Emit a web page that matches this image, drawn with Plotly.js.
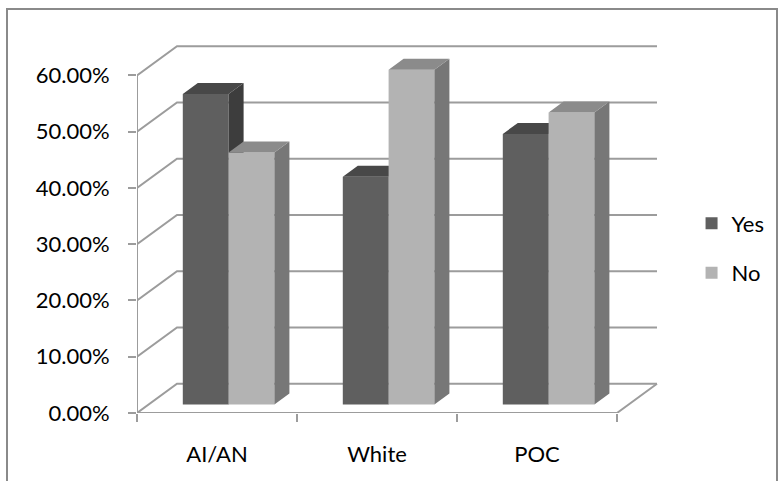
<!DOCTYPE html>
<html>
<head>
<meta charset="utf-8">
<script src="https://cdn.plot.ly/plotly-3.0.1.min.js"></script>
<style>
  html, body { margin: 0; padding: 0; background: #fff; }
  #wrap { position: relative; width: 784px; height: 481px; overflow: hidden; }
  #chart { width: 784px; height: 481px; }
  #frame { position: absolute; left: 6px; top: 8px; width: 768px; height: 520px;
           border: 2px solid #8a8a8a; pointer-events: none; }
</style>
</head>
<body>
<div id="wrap">
  <div id="chart"></div>
  <div id="frame"></div>
</div>
<script>
// Share of responses by group
const categories = ['AI/AN', 'White', 'POC'];
const yesValues = [0.552, 0.405, 0.481];
const noValues = [0.448, 0.595, 0.519];
const seriesNames = ['Yes', 'No'];
const valueTicks = [0, 0.1, 0.2, 0.3, 0.4, 0.5, 0.6];

// Pixel scale of the front plane
const PX_PER_CAT = 160;
const PX_PER_UNIT = 563.3;
const M = { l: 137, r: 84, t: 30, b: 67.5 };
const plotW = 784 - M.l - M.r;
const plotH = 481 - M.t - M.b;
const xRange = [-0.5, -0.5 + plotW / PX_PER_CAT];
const yRange = [0, plotH / PX_PER_UNIT];

// Oblique depth of the floor/back wall and of each column, in data units
const WALL_DX = 40 / PX_PER_CAT, WALL_DY = 29.3 / PX_PER_UNIT;
const FRONT_DX = 11.6 / PX_PER_CAT, FRONT_DY = 8.5 / PX_PER_UNIT;
const BAR_DX = 15 / PX_PER_CAT, BAR_DY = 11 / PX_PER_UNIT;
const BAR_W = 45.8 / PX_PER_CAT;

const lineColor = '#9c9c9c';
const colors = {
  Yes: { front: '#5f5f5f', top: '#484848', side: '#3d3d3d' },
  No:  { front: '#b3b3b3', top: '#8b8b8b', side: '#777777' }
};

// Back wall, side diagonals, floor and front value axis
const nCat = categories.length;
const xL = -0.5, xR = nCat - 0.5;
const wx = [], wy = [];
valueTicks.forEach(v => {
  wx.push(xL, xL + WALL_DX, xR + WALL_DX, null);
  wy.push(v, v + WALL_DY, v + WALL_DY, null);
});
wx.push(xL, xL, null, xL, xR, xR + WALL_DX);
wy.push(valueTicks[valueTicks.length - 1], 0, null, 0, 0, WALL_DY);

const data = [{
  type: 'scatter', mode: 'lines', x: wx, y: wy,
  line: { color: lineColor, width: 2 },
  xaxis: 'x', yaxis: 'y', showlegend: false, hoverinfo: 'skip'
}];

function columnFaces(values, name, leftSide, xa, ya) {
  const c = colors[name];
  const xs = categories.map((_, i) => i + FRONT_DX);
  // front faces
  data.push({
    type: 'bar', name: name, x: xs, y: values, base: FRONT_DY,
    offset: leftSide ? -BAR_W : 0, width: BAR_W,
    marker: { color: c.front, line: { width: 0 } },
    xaxis: xa, yaxis: ya, legendgroup: name,
    customdata: categories,
    hovertemplate: '%{customdata}: %{y:.2%}<extra>' + name + '</extra>'
  });
  const tx = [], ty = [], sx = [], sy = [];
  values.forEach((v, i) => {
    const x0 = xs[i] + (leftSide ? -BAR_W : 0), x1 = x0 + BAR_W;
    const b = FRONT_DY, t = FRONT_DY + v;
    tx.push(x0, x1, x1 + BAR_DX, x0 + BAR_DX, x0, null);
    ty.push(t, t, t + BAR_DY, t + BAR_DY, t, null);
    sx.push(x1, x1, x1 + BAR_DX, x1 + BAR_DX, x1, null);
    sy.push(b, t, t + BAR_DY, b + BAR_DY, b, null);
  });
  [[sx, sy, c.side], [tx, ty, c.top]].forEach(([px, py, col]) => {
    data.push({
      type: 'scatter', mode: 'lines', x: px, y: py, fill: 'toself',
      fillcolor: col, line: { width: 0, color: col },
      xaxis: xa, yaxis: ya, showlegend: false, hoverinfo: 'skip'
    });
  });
}
columnFaces(yesValues, seriesNames[0], true, 'x2', 'y2');
columnFaces(noValues, seriesNames[1], false, 'x3', 'y3');

const font = { family: 'Lato, "Open Sans", sans-serif', size: 22, color: '#000' };
const hiddenY = { range: yRange, overlaying: 'y', showgrid: false, zeroline: false,
                  showticklabels: false, ticks: '', fixedrange: true };

const layout = {
  width: 784, height: 481,
  margin: M,
  paper_bgcolor: '#fff', plot_bgcolor: 'rgba(0,0,0,0)',
  font: font,
  barmode: 'overlay',
  showlegend: true,
  legend: {
    x: 0.985, xanchor: 'left', y: 0.55, yanchor: 'top',
    font: font, tracegroupgap: 18, traceorder: 'grouped',
    bgcolor: 'rgba(0,0,0,0)'
  },
  xaxis: {
    range: xRange, fixedrange: true, showgrid: false, zeroline: false,
    showline: false, tickmode: 'array', tickvals: categories.map((_, i) => i),
    ticktext: categories, ticks: '', ticklabelstandoff: 26, tickfont: font
  },
  xaxis2: {
    range: xRange, overlaying: 'x', anchor: 'y2', side: 'bottom', fixedrange: true,
    showgrid: false, zeroline: false, showline: false, showticklabels: false,
    tickmode: 'array', tickvals: Array.from({ length: nCat + 1 }, (_, i) => i - 0.5),
    ticks: 'outside', ticklen: 8, tickwidth: 2, tickcolor: lineColor
  },
  xaxis3: {
    range: xRange, overlaying: 'x', anchor: 'y3', fixedrange: true,
    showgrid: false, zeroline: false, showline: false, showticklabels: false, ticks: ''
  },
  yaxis: {
    range: yRange, fixedrange: true, showgrid: false, zeroline: false, showline: false,
    tickmode: 'array', tickvals: valueTicks, tickformat: '.2%',
    ticks: 'outside', ticklen: 8, tickwidth: 2, tickcolor: lineColor,
    ticklabelstandoff: 14, tickfont: font
  },
  yaxis2: Object.assign({ anchor: 'x2' }, hiddenY),
  yaxis3: Object.assign({ anchor: 'x3' }, hiddenY)
};

Plotly.newPlot('chart', data, layout, { displayModeBar: false, staticPlot: true });
</script>
</body>
</html>
